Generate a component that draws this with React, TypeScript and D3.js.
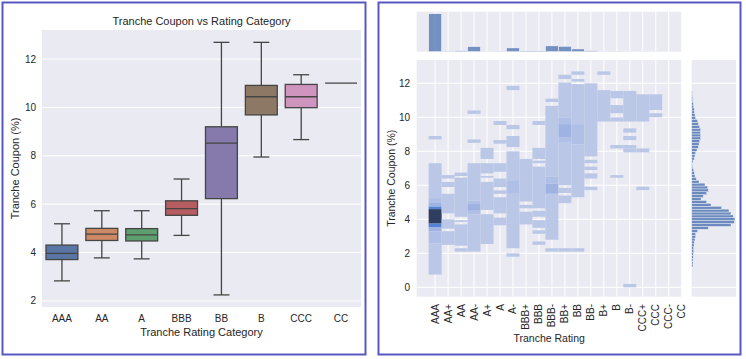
import React from "react";
import * as d3 from "d3";

// ---------- Left chart data (box plot) ----------
const boxCategories = ["AAA", "AA", "A", "BBB", "BB", "B", "CCC", "CC"];
const whiskerLow = [2.83, 3.78, 3.74, 4.71, 2.25, 7.95, 8.67, 11.0];
const q1 = [3.71, 4.5, 4.48, 5.54, 6.23, 9.69, 9.99, 11.0];
const medians = [3.97, 4.76, 4.73, 5.82, 8.52, 10.44, 10.44, 11.0];
const q3 = [4.31, 5.0, 4.99, 6.14, 9.2, 10.91, 10.95, 11.0];
const whiskerHigh = [5.19, 5.73, 5.73, 7.04, 12.69, 12.69, 11.35, 11.0];
const boxColors = ["#5975a4", "#cc8963", "#5f9e6e", "#b55d60", "#857aab", "#8d7866", "#d095bf", "#8c8c8c"];
const leftYTicks = [2, 4, 6, 8, 10, 12];

// ---------- Right chart data (joint histogram) ----------
const ratings = ["AAA", "AA+", "AA", "AA-", "A+", "A", "A-", "BBB+", "BBB", "BBB-", "BB+", "BB", "BB-", "B+", "B", "B-", "CCC+", "CCC", "CCC-", "CC"];
// [ratingIndex, couponLow, couponHigh, densityLevel]
const heatCells: [number, number, number, number][] = [
  [0, 8.7, 8.9, 1], [0, 5.25, 7.3, 1], [0, 5.0, 5.25, 2], [0, 4.75, 5.0, 3], [0, 4.6, 4.75, 5],
  [0, 3.75, 4.6, 6], [0, 3.55, 3.75, 5], [0, 3.3, 3.55, 3], [0, 2.6, 3.3, 2], [0, 0.75, 2.6, 1],
  [1, 6.4, 6.6, 1], [1, 5.9, 6.2, 1], [1, 4.35, 5.5, 1], [1, 3.45, 4.0, 1], [1, 2.5, 3.3, 1],
  [2, 6.55, 6.75, 1], [2, 4.15, 6.45, 1], [2, 3.85, 3.95, 1], [2, 2.45, 3.7, 1], [2, 2.1, 2.3, 1],
  [3, 10.2, 10.4, 1], [3, 8.5, 8.7, 1], [3, 5.1, 7.3, 1], [3, 4.9, 5.1, 2], [3, 4.5, 4.9, 3], [3, 4.3, 4.5, 2], [3, 2.1, 4.3, 1],
  [4, 7.55, 8.2, 1], [4, 6.7, 7.3, 1], [4, 6.45, 6.55, 1], [4, 4.55, 6.2, 1], [4, 2.55, 4.3, 1],
  [5, 9.55, 9.78, 1], [5, 8.45, 8.66, 1], [5, 6.8, 7.3, 1], [5, 5.9, 6.4, 1], [5, 5.5, 5.7, 1], [5, 4.35, 5.3, 1], [5, 3.65, 4.1, 1],
  [6, 11.6, 11.85, 1], [6, 9.3, 9.55, 1], [6, 8.25, 8.9, 1], [6, 6.3, 8.0, 1], [6, 5.5, 6.3, 2], [6, 2.3, 5.5, 1], [6, 1.8, 2.0, 1],
  [7, 5.05, 7.55, 1], [7, 4.65, 4.85, 1], [7, 3.7, 4.45, 1],
  [8, 9.55, 9.78, 1], [8, 7.55, 8.2, 1], [8, 7.3, 7.45, 1], [8, 4.65, 7.1, 1], [8, 4.15, 4.5, 1], [8, 3.5, 3.95, 1], [8, 3.15, 3.35, 1], [8, 2.5, 2.7, 1],
  [9, 10.9, 11.1, 1], [9, 6.5, 10.67, 1], [9, 6.1, 6.5, 2], [9, 5.5, 6.1, 3], [9, 2.8, 5.5, 1], [9, 2.1, 2.3, 1],
  [10, 12.25, 12.5, 1], [10, 10.0, 12.04, 1], [10, 9.6, 10.0, 2], [10, 8.8, 9.6, 3], [10, 8.5, 8.8, 2], [10, 6.0, 8.5, 1], [10, 5.55, 5.85, 1], [10, 4.95, 5.4, 1], [10, 2.1, 2.3, 1],
  [11, 12.5, 12.7, 1], [11, 12.1, 12.25, 1], [11, 9.6, 11.95, 1], [11, 8.4, 9.6, 2], [11, 5.3, 8.4, 1], [11, 2.1, 2.3, 1],
  [12, 7.7, 12.0, 1], [12, 7.3, 7.5, 1], [12, 6.9, 7.1, 1], [12, 6.4, 6.7, 1], [12, 5.72, 5.92, 1],
  [13, 12.5, 12.7, 1], [13, 9.75, 11.6, 1],
  [14, 11.12, 11.55, 1], [14, 10.24, 10.72, 1], [14, 9.75, 10.0, 1], [14, 8.17, 8.37, 1], [14, 6.45, 6.6, 1],
  [15, 9.75, 11.55, 1], [15, 9.1, 9.35, 1], [15, 8.66, 8.9, 1], [15, 8.17, 8.37, 1], [15, 7.94, 8.17, 1], [15, 0.0, 0.2, 1],
  [16, 9.75, 11.35, 1], [16, 7.94, 8.17, 1], [16, 5.72, 5.92, 1],
  [17, 10.43, 11.35, 1], [17, 10.0, 10.24, 1],
];
const levelColors = ["#bac7e6", "#afbfe5", "#9fb3e2", "#7c9bd9", "#5482d2", "#2e3d60"];
const ratingCounts = [370, 4, 10, 50, 2, 3, 37, 8, 8, 57, 53, 27, 10, 2, 3, 2, 2, 2, 0, 0];
const couponBinStart = 1.2;
const couponBinWidth = 0.17;
const couponCounts = [
  4, 4, 4, 5, 5, 6, 6, 7, 8, 10, 12, 12, 18, 50, 118, 128, 130, 125, 118, 112,
  90, 58, 45, 28, 35, 45, 50, 48, 40, 22, 14, 10, 8, 6, 3, 2, 4, 8, 10, 12,
  16, 20, 22, 24, 27, 27, 26, 27, 24, 20, 18, 12, 10, 8, 8, 6, 5, 3, 3, 2, 2,
];
const rightYTicks = [0, 2, 4, 6, 8, 10, 12];

const FONT = "'Liberation Sans', Arial, sans-serif";
const TXT = "#262626";
const BG = "#eaeaf2";
const LINE = "#454545";

export default function App() {
  // left panel scales
  const lx = d3.scaleBand<string>().domain(boxCategories).range([42, 361]).padding(0);
  const ly = d3.scaleLinear().domain([1.75, 13.2]).range([307, 30]);
  const bw = lx.bandwidth() * 0.8;

  // right panel scales
  const rx = d3.scaleLinear().domain([-1.42, 19]).range([416.7, 681.7]);
  const ry = d3.scaleLinear().domain([-0.55, 13.37]).range([296.7, 60]);
  const topY = d3.scaleLinear().domain([0, 390]).range([51.7, 11.7]);
  const sideX = d3.scaleLinear().domain([0, 133]).range([691.7, 736]);
  const levelColor = d3.scaleOrdinal<number, string>().domain([1, 2, 3, 4, 5, 6]).range(levelColors);

  return (
    <svg width={746} height={359} style={{ position: "absolute", left: 0, top: 0, background: "#fff" }} fontFamily={FONT}>
      {/* ---------------- Left panel ---------------- */}
      <rect x={2.5} y={2.5} width={363} height={352} fill="#fff" stroke="#5858c2" strokeWidth={2} />
      <rect x={42} y={30} width={319} height={277} fill={BG} />
      {leftYTicks.map((t) => (
        <g key={"ly" + t}>
          <line x1={42} x2={361} y1={ly(t)} y2={ly(t)} stroke="#fff" strokeWidth={1} />
          <text x={36} y={ly(t)} dy="0.35em" textAnchor="end" fontSize={10} fill={TXT}>{t}</text>
        </g>
      ))}
      {boxCategories.map((c, i) => {
        const cx = (lx(c) as number) + lx.bandwidth() / 2;
        const single = q1[i] === q3[i];
        return (
          <g key={"box" + c}>
            {!single && (
              <>
                <line x1={cx} x2={cx} y1={ly(q1[i])} y2={ly(whiskerLow[i])} stroke={LINE} strokeWidth={1.3} />
                <line x1={cx} x2={cx} y1={ly(q3[i])} y2={ly(whiskerHigh[i])} stroke={LINE} strokeWidth={1.3} />
                <line x1={cx - bw / 4} x2={cx + bw / 4} y1={ly(whiskerLow[i])} y2={ly(whiskerLow[i])} stroke={LINE} strokeWidth={1.3} />
                <line x1={cx - bw / 4} x2={cx + bw / 4} y1={ly(whiskerHigh[i])} y2={ly(whiskerHigh[i])} stroke={LINE} strokeWidth={1.3} />
                <rect x={cx - bw / 2} y={ly(q3[i])} width={bw} height={ly(q1[i]) - ly(q3[i])} fill={boxColors[i]} stroke={LINE} strokeWidth={1.3} />
              </>
            )}
            <line x1={cx - bw / 2} x2={cx + bw / 2} y1={ly(medians[i])} y2={ly(medians[i])} stroke={LINE} strokeWidth={1.3} />
            <text x={cx} y={318} dy="0.35em" textAnchor="middle" fontSize={10} fill={TXT}>{c}</text>
          </g>
        );
      })}
      <text x={201.5} y={21} dy="0.35em" textAnchor="middle" fontSize={11} fill={TXT}>Tranche Coupon vs Rating Category</text>
      <text x={201.5} y={332} dy="0.35em" textAnchor="middle" fontSize={11} fill={TXT}>Tranche Rating Category</text>
      <text transform={`translate(15,${168.5}) rotate(-90)`} dy="0.35em" textAnchor="middle" fontSize={11} fill={TXT}>Tranche Coupon (%)</text>

      {/* ---------------- Right panel ---------------- */}
      <rect x={378.5} y={2.5} width={362} height={352} fill="#fff" stroke="#5858c2" strokeWidth={2} />
      {/* main heatmap */}
      <rect x={416.7} y={60} width={265} height={236.7} fill={BG} />
      {ratings.map((r, i) => (
        <line key={"vg" + r} x1={rx(i)} x2={rx(i)} y1={60} y2={296.7} stroke="#fff" strokeWidth={1} />
      ))}
      {rightYTicks.map((t) => (
        <g key={"ry" + t}>
          <line x1={416.7} x2={681.7} y1={ry(t)} y2={ry(t)} stroke="#fff" strokeWidth={1} />
          <text x={410} y={ry(t)} dy="0.35em" textAnchor="end" fontSize={10} fill={TXT}>{t}</text>
        </g>
      ))}
      {heatCells.map(([ri, lo, hi, lv], k) => (
        <rect key={"hc" + k} x={rx(ri - 0.5)} width={rx(ri + 0.5) - rx(ri - 0.5)} y={ry(hi)} height={ry(lo) - ry(hi)} fill={levelColor(lv)} />
      ))}
      {ratings.map((r, i) => (
        <text key={"xt" + r} transform={`translate(${rx(i)},304) rotate(-90)`} dy="0.35em" textAnchor="end" fontSize={10} fill={TXT}>{r}</text>
      ))}
      <text x={549.2} y={338.5} dy="0.35em" textAnchor="middle" fontSize={10.5} fill={TXT}>Tranche Rating</text>
      <text transform={`translate(391.5,178.3) rotate(-90)`} dy="0.35em" textAnchor="middle" fontSize={10.5} fill={TXT}>Tranche Coupon (%)</text>

      {/* top marginal */}
      <rect x={416.7} y={11.7} width={265} height={40} fill={BG} />
      {ratings.map((r, i) => (
        <line key={"tg" + r} x1={rx(i)} x2={rx(i)} y1={11.7} y2={51.7} stroke="#fff" strokeWidth={1} />
      ))}
      {ratingCounts.map((c, i) =>
        c > 0 ? (
          <rect key={"tb" + i} x={rx(i - 0.5)} width={rx(i + 0.5) - rx(i - 0.5)} y={topY(c)} height={topY(0) - topY(c)} fill="#4c72b0" fillOpacity={0.75} stroke="#fff" strokeWidth={0.5} />
        ) : null
      )}

      {/* right marginal */}
      <rect x={691.7} y={60} width={44.3} height={236.7} fill={BG} />
      {rightYTicks.map((t) => (
        <line key={"sg" + t} x1={691.7} x2={736} y1={ry(t)} y2={ry(t)} stroke="#fff" strokeWidth={1} />
      ))}
      {couponCounts.map((c, i) => {
        const lo = couponBinStart + i * couponBinWidth;
        const hi = lo + couponBinWidth;
        return (
          <rect key={"sb" + i} x={sideX(0)} width={sideX(c) - sideX(0)} y={ry(hi)} height={ry(lo) - ry(hi)} fill="#4c72b0" fillOpacity={0.8} stroke="#fff" strokeWidth={0.4} />
        );
      })}
    </svg>
  );
}
